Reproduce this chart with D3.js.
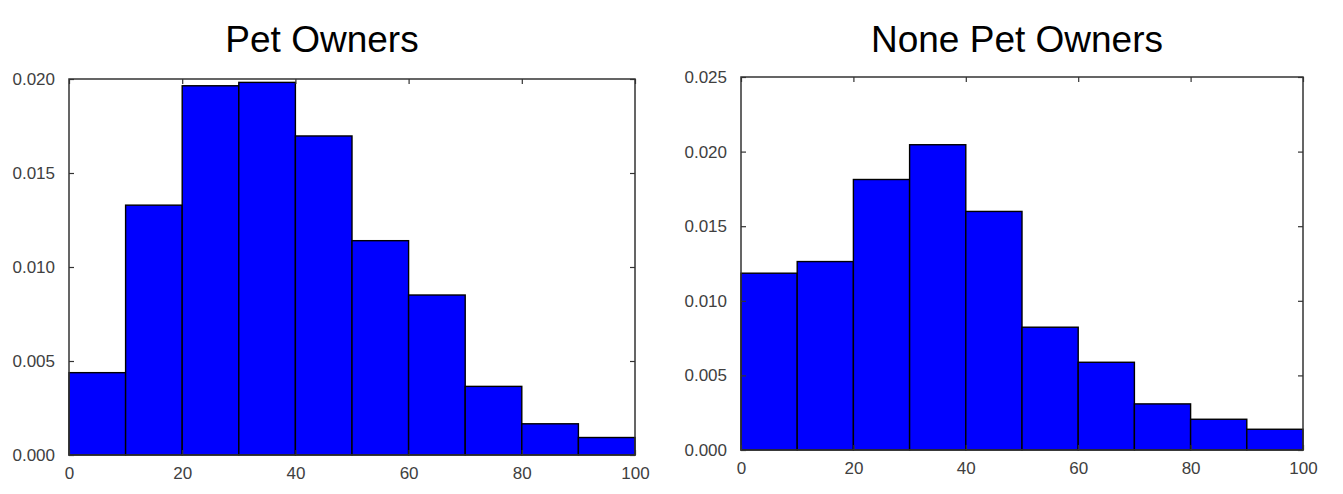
<!DOCTYPE html>
<html>
<head>
<meta charset="utf-8">
<script src="https://cdn.jsdelivr.net/npm/d3@7"></script>
<style>
    body { margin: 0; background: #fff; }
    svg { display: block; font-family: "Liberation Sans", Arial, sans-serif; }
    .tick text { fill: #404040; font-size: 17px; }
    .tick line { stroke: #333; stroke-width: 1.2; }
</style>
</head>
<body>
<svg id="chart" width="1343" height="494"></svg>
<script>
// bin edges shared by both histograms
var binEdges = [0, 10, 20, 30, 40, 50, 60, 70, 80, 90, 100];
var xTicks = [0, 20, 40, 60, 80, 100];

// densities
var petOwners = [0.00438, 0.01329, 0.01964, 0.01982, 0.01697, 0.01140, 0.00851, 0.00365, 0.00166, 0.00093];
var nonePetOwners = [0.01185, 0.01263, 0.01813, 0.02046, 0.01599, 0.00823, 0.00588, 0.00309, 0.00206, 0.00139];

var yTicksPet = [0, 0.005, 0.010, 0.015, 0.020];
var yTicksNone = [0, 0.005, 0.010, 0.015, 0.020, 0.025];

var titles = ["Pet Owners", "None Pet Owners"];

var svg = d3.select("#chart");

function drawHist(title, values, yTicks, box) {
    let left = box.left, top = box.top, width = box.width, height = box.height;

    let x = d3.scaleLinear().domain([0, 100]).range([left, left + width]);
    let y = d3.scaleLinear().domain([0, yTicks[yTicks.length - 1]]).range([top + height, top]);

    let bins = [];
    for (let i = 0; i < values.length; i++) {
        bins.push({ x0: binEdges[i], x1: binEdges[i + 1], v: values[i] });
    }

    let g = svg.append("g");

    g.append("g")
        .selectAll("rect")
        .data(bins)
        .join("rect")
        .attr("x", d => x(d.x0))
        .attr("y", d => y(d.v))
        .attr("width", d => x(d.x1) - x(d.x0))
        .attr("height", d => y(0) - y(d.v))
        .attr("fill", "#0000ff")
        .attr("stroke", "#000")
        .attr("stroke-width", 1.4);

    // ticks point inward on all four sides
    let bottom = g.append("g")
        .attr("transform", `translate(0,${top + height})`)
        .call(d3.axisBottom(x).tickValues(xTicks).tickSize(-5).tickPadding(12).tickFormat(d3.format("d")));
    bottom.selectAll(".tick text").attr("dy", "0.71em");

    g.append("g")
        .attr("transform", `translate(0,${top})`)
        .call(d3.axisTop(x).tickValues(xTicks).tickSize(-5).tickFormat(""));

    g.append("g")
        .attr("transform", `translate(${left},0)`)
        .call(d3.axisLeft(y).tickValues(yTicks).tickSize(-5).tickPadding(14).tickFormat(d3.format(".3f")));

    g.append("g")
        .attr("transform", `translate(${left + width},0)`)
        .call(d3.axisRight(y).tickValues(yTicks).tickSize(-5).tickFormat(""));

    g.selectAll(".domain").remove();

    g.append("rect")
        .attr("x", left)
        .attr("y", top)
        .attr("width", width)
        .attr("height", height)
        .attr("fill", "none")
        .attr("stroke", "#333")
        .attr("stroke-width", 1.5);

    // titles sit a little left of the plot centre in the original
    g.append("text")
        .attr("x", box.titleX)
        .attr("y", 52)
        .attr("text-anchor", "middle")
        .attr("fill", "#000")
        .style("font-size", "37px")
        .text(title);
}

drawHist(titles[0], petOwners, yTicksPet, { left: 69, top: 79, width: 566, height: 376, titleX: 322 });
drawHist(titles[1], nonePetOwners, yTicksNone, { left: 741, top: 77, width: 562, height: 373, titleX: 1017 });
</script>
</body>
</html>
